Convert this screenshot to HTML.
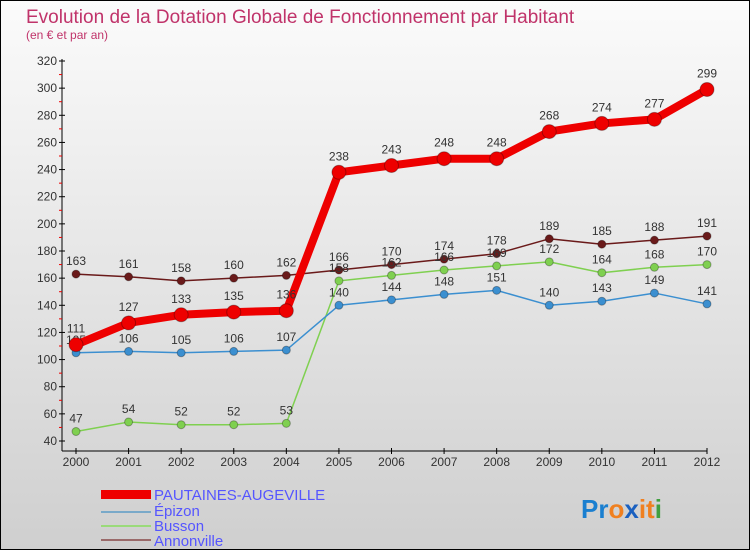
<!DOCTYPE html>
<html><head><meta charset="utf-8"><style>
body{margin:0}
#c{width:748px;height:548px;border:1px solid #000;background:linear-gradient(#fbfbfb,#cfcfcf);position:relative;font-family:"Liberation Sans",sans-serif;overflow:hidden}
svg{position:absolute;left:0;top:0}
</style></head><body>
<div id="c">
<svg id="s" width="748" height="548">
<text x="25" y="22" font-size="19" fill="#c0336a">Evolution de la Dotation Globale de Fonctionnement par Habitant</text>
<text x="25" y="38" font-size="12" fill="#c0336a">(en € et par an)</text>
<g id="legend">
<rect x="100" y="489" width="50" height="9" fill="#e00"/>
<text x="153" y="499" font-size="15" fill="#55f">PAUTAINES-AUGEVILLE</text>
<rect x="100" y="510" width="50" height="2" fill="#79a9c9"/>
<text x="153" y="515" font-size="15" fill="#55f">Épizon</text>
<rect x="100" y="524" width="50" height="2" fill="#9ada7a"/>
<text x="153" y="530" font-size="15" fill="#55f">Busson</text>
<rect x="100" y="538" width="50" height="2" fill="#9a6a6a"/>
<text x="153" y="545" font-size="15" fill="#55f">Annonville</text>
</g>
<text x="580" y="517" font-size="26" font-weight="bold"><tspan fill="#1a7fd0">Pr</tspan><tspan fill="#f08020">o</tspan><tspan fill="#1a60c0">x</tspan><tspan fill="#f08020">it</tspan><tspan fill="#40a040">i</tspan></text>
</svg>
</div>
<script>
const years=["2000","2001","2002","2003","2004","2005","2006","2007","2008","2009","2010","2011","2012"];
const yTicks=[40,60,80,100,120,140,160,180,200,220,240,260,280,300,320];
const pautaines=[111,127,133,135,136,238,243,248,248,268,274,277,299];
const epizon=[105,106,105,106,107,140,144,148,151,140,143,149,141];
const busson=[47,54,52,52,53,158,162,166,169,172,164,168,170];
const annonville=[163,161,158,160,162,166,170,174,178,189,185,188,191];
const NS="http://www.w3.org/2000/svg",s=document.getElementById('s');
const X=i=>75+i*(631/12), Y=v=>440-(v-40)*380/280;
function el(t,a,p){const e=document.createElementNS(NS,t);for(const k in a)e.setAttribute(k,a[k]);(p||s).appendChild(e);return e;}
const ax=el('g',{});


const yl=el('line',{x1:61,y1:58,x2:61,y2:450,stroke:'#000'},ax);


const xl=el('line',{x1:61,y1:450,x2:706,y2:450,stroke:'#000'},ax);


yTicks.forEach((v,i)=>{
 el('line',{x1:58,x2:64,y1:Y(v),y2:Y(v),stroke:'#000'},ax);
 if(i<yTicks.length-1)el('line',{x1:58,x2:61,y1:Y(v+10),y2:Y(v+10),stroke:'#e00'},ax);
 const t=el('text',{x:56,y:Y(v)+4,'font-size':12,'text-anchor':'end',fill:'#333'},ax);
 
 
 t.textContent=v;
});
years.forEach((y,i)=>{
 el('line',{x1:X(i),x2:X(i),y1:447,y2:453,stroke:'#000'},ax);
 const t=el('text',{x:X(i),y:465,'font-size':12,'text-anchor':'middle',fill:'#333'},ax);
 
 
 t.textContent=y;
});
function series(d,col,lw,r,name){
 const g=el('g',{});
 
 
 const p=el('polyline',{points:d.map((v,i)=>X(i)+','+Y(v)).join(' '),fill:'none',stroke:col,'stroke-width':lw,'stroke-linejoin':'round'},g);
 
 
 d.forEach((v,i)=>{
  const c=el('circle',{cx:X(i),cy:Y(v),r:r,fill:col,stroke:'rgba(0,0,0,0.3)'},g);
  
  
  const t=el('text',{x:X(i),y:Y(v)-(r+5),'font-size':12,'text-anchor':'middle',fill:'#333'},g);
  
  
  t.textContent=v;
 });
}
series(annonville,'#6a1a1a',1.5,4,'annonville');
series(busson,'#7fd050',1.5,4,'busson');
series(epizon,'#3b8fd0',1.5,4,'epizon');
series(pautaines,'#ee0000',8,7,'pautaines');
</script>
</body></html>
